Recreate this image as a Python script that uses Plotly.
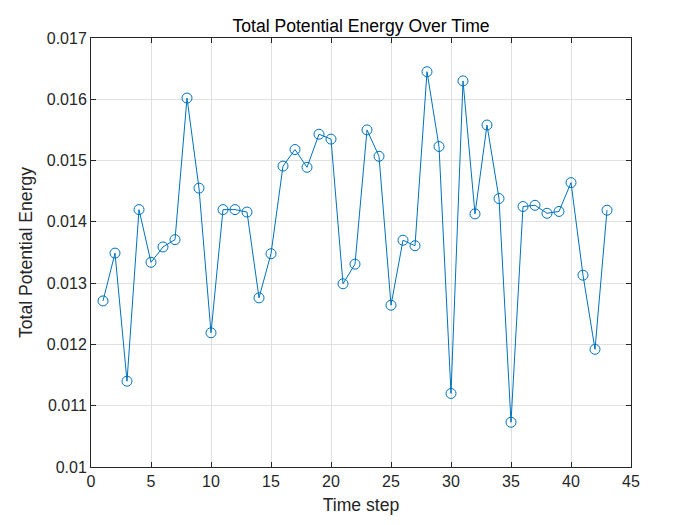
import plotly.graph_objects as go

# --- data
time_step = list(range(1, 44))
potential_energy = [
    0.01271, 0.01349, 0.01140, 0.01420, 0.01334, 0.01359, 0.01371, 0.01602,
    0.01455, 0.01219, 0.01420, 0.01420, 0.01416, 0.01276, 0.01348, 0.01491,
    0.01518, 0.01489, 0.01543, 0.01535, 0.01299, 0.01331, 0.01550, 0.01507,
    0.01264, 0.01370, 0.01361, 0.01645, 0.01523, 0.01120, 0.01630, 0.01413,
    0.01558, 0.01438, 0.01073, 0.01425, 0.01427, 0.01414, 0.01417, 0.01464,
    0.01313, 0.01192, 0.01419,
]
x_ticks = [0, 5, 10, 15, 20, 25, 30, 35, 40, 45]
y_ticks = [0.010, 0.011, 0.012, 0.013, 0.014, 0.015, 0.016, 0.017]
y_tick_labels = ['0.01', '0.011', '0.012', '0.013', '0.014', '0.015', '0.016', '0.017']

axis_color = '#262626'
grid_color = '#e0e0e0'

fig = go.Figure()
fig.add_trace(go.Scatter(
    x=time_step,
    y=potential_energy,
    mode='lines+markers',
    line=dict(color='#0072BD', width=1),
    marker=dict(symbol='circle-open', size=10, color='#0072BD', line=dict(width=1)),
    showlegend=False
))

common_axis = dict(
    showline=True, mirror='ticks', linecolor=axis_color, linewidth=1,
    ticks='inside', ticklen=5, tickcolor=axis_color,
    showgrid=True, gridcolor=grid_color, gridwidth=1,
    zeroline=False,
    tickfont=dict(size=16, color=axis_color),
)

# page body adds ~8px offset, margins compensate for it
fig.update_layout(
    width=700, height=525,
    paper_bgcolor='white', plot_bgcolor='white',
    font=dict(family='Liberation Sans, Arial, sans-serif', color=axis_color),
    margin=dict(l=83, r=77, t=30, b=66),
    title=dict(text='Total Potential Energy Over Time', x=0.5, xanchor='center',
               xref='paper', yref='container', y=0.966, yanchor='middle',
               font=dict(size=17.6, color='black')),
    xaxis=dict(range=[0, 45], tickvals=x_ticks,
               title=dict(text='Time step', font=dict(size=17.6, color=axis_color), standoff=9),
               **common_axis),
    yaxis=dict(range=[0.010, 0.017], tickvals=y_ticks, ticktext=y_tick_labels,
               title=dict(text='Total Potential Energy', font=dict(size=17.6, color=axis_color), standoff=9),
               **common_axis),
)

fig.write_html("out.html")
